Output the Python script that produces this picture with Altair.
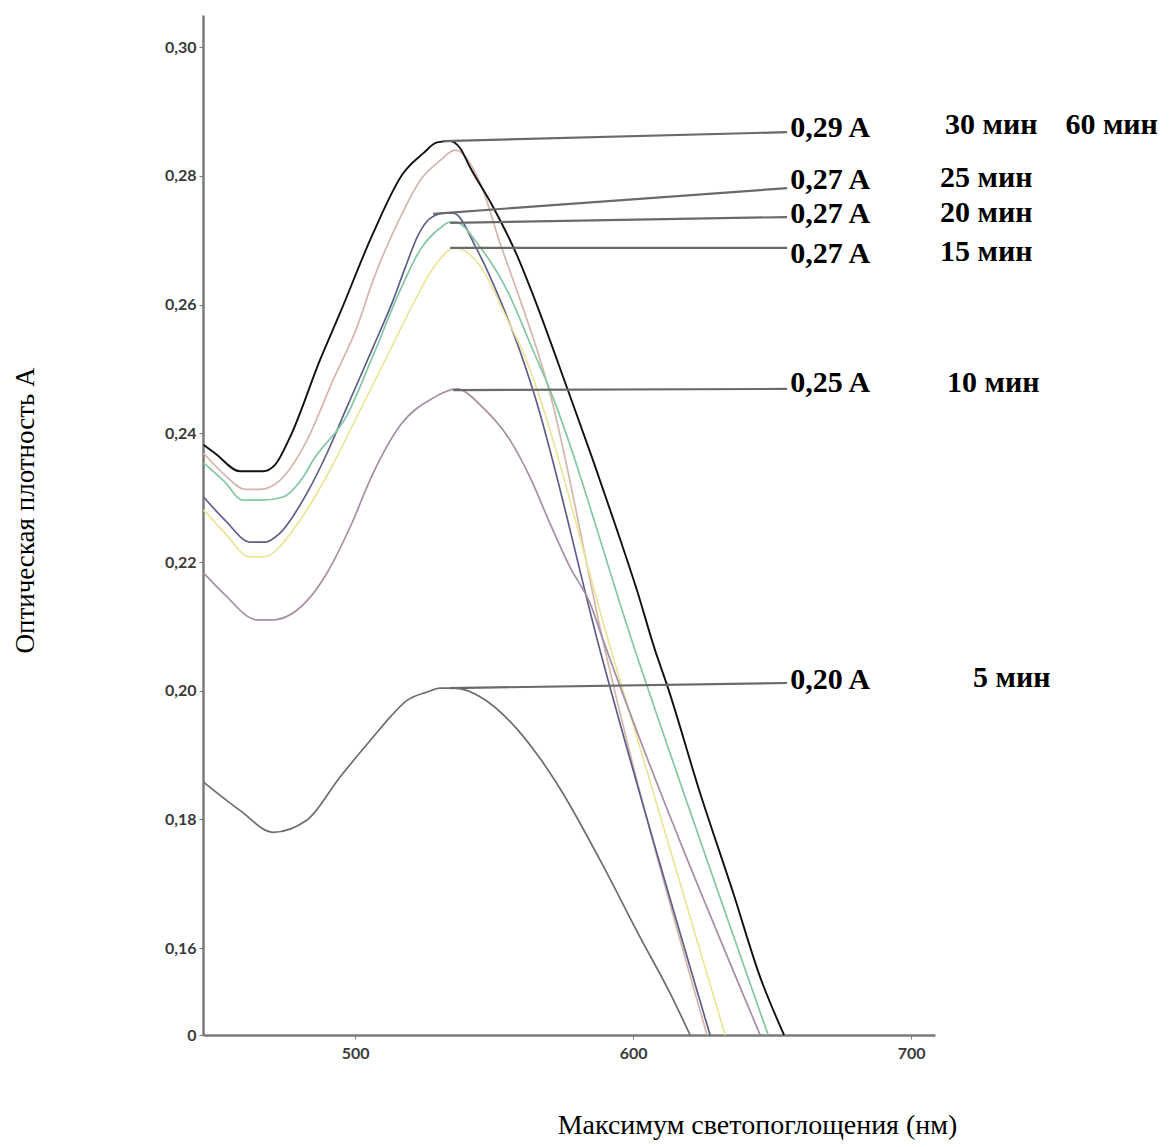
import altair as alt
import pandas as pd

# ---------------- data ----------------
series_names = ["30 мин", "60 мин", "25 мин", "20 мин", "15 мин", "10 мин", "5 мин"]
series_colors = ["#111111", "#d4b6ab", "#5e5e8a", "#84c7a2", "#ece598", "#a68fa6", "#6c6c72"]

wl_30 = [445.5, 449.6, 458.6, 466.9, 471.2, 476.6, 487.4, 494.6, 506.5, 517.3, 524.5, 529.5,
         534.2, 537.8, 541.4, 549.6, 558.3, 564.0, 576.3, 585.6, 594.2, 601.4, 607.9, 612.2,
         624.1, 636.0, 645.7, 654.3]
a_30 = [0.2382, 0.2369, 0.2341, 0.2341, 0.2351, 0.2394, 0.2514, 0.2587, 0.2711, 0.2804, 0.2835, 0.2852,
        0.2854, 0.2843, 0.2813, 0.2752, 0.2676, 0.2615, 0.2470, 0.2358, 0.2250, 0.2156, 0.2063, 0.2009,
        0.1841, 0.1686, 0.1555, 0.1465]

wl_60 = [445.5, 453.2, 460.4, 465.8, 473.0, 482.7, 492.1, 500.7, 506.5, 516.2, 523.4, 530.6,
         536.0, 545.0, 552.2, 559.4, 565.5, 569.1, 589.9, 626.6]
a_60 = [0.2369, 0.2335, 0.2313, 0.2313, 0.2327, 0.2389, 0.2483, 0.2565, 0.2638, 0.2735, 0.2793, 0.2824,
        0.2840, 0.2789, 0.2695, 0.2607, 0.2529, 0.2478, 0.2063, 0.1465]

wl_25 = [445.5, 453.2, 462.2, 467.6, 473.0, 482.7, 489.9, 497.1, 506.5, 513.7, 518.0, 522.7,
         527.0, 532.4, 535.3, 543.9, 552.2, 558.3, 564.0, 588.1, 627.7]
a_25 = [0.2301, 0.2265, 0.2231, 0.2231, 0.2245, 0.2307, 0.2369, 0.2441, 0.2534, 0.2607, 0.2657, 0.2708,
        0.2734, 0.2742, 0.2742, 0.2685, 0.2607, 0.2540, 0.2467, 0.2063, 0.1465]

wl_20 = [445.5, 453.2, 459.4, 466.5, 474.1, 481.3, 484.9, 497.1, 506.5, 516.2, 523.4, 530.6,
         534.2, 536.0, 545.0, 554.7, 564.0, 569.1, 600.7, 648.6]
a_20 = [0.2354, 0.2324, 0.2296, 0.2296, 0.2301, 0.2332, 0.2358, 0.2428, 0.2521, 0.2622, 0.2685, 0.2719,
        0.2728, 0.2728, 0.2689, 0.2622, 0.2529, 0.2478, 0.2063, 0.1465]

wl_15 = [445.5, 453.2, 462.2, 466.9, 480.2, 491.0, 501.8, 512.6, 521.6, 528.8, 536.0, 545.0,
         554.0, 560.1, 592.1, 633.1]
a_15 = [0.2281, 0.2245, 0.2208, 0.2208, 0.2265, 0.2343, 0.2436, 0.2529, 0.2607, 0.2661, 0.2688, 0.2660,
        0.2584, 0.2529, 0.2063, 0.1465]

wl_10 = [445.5, 453.2, 464.7, 470.1, 483.8, 489.9, 498.2, 506.5, 516.2, 528.1, 536.5,
         546.0, 555.8, 562.9, 570.1, 577.3, 584.5, 589.2, 645.7]
a_10 = [0.2183, 0.2149, 0.2110, 0.2110, 0.2145, 0.2183, 0.2254, 0.2338, 0.2412, 0.2455, 0.2469,
        0.2440, 0.2389, 0.2332, 0.2260, 0.2192, 0.2136, 0.2079, 0.1465]

wl_5 = [445.5, 458.6, 470.5, 482.7, 494.6, 506.5, 512.6, 518.7, 525.9, 530.6, 536.0, 546.0,
        555.8, 566.5, 573.7, 588.1, 602.5, 613.3, 620.5]
a_5 = [0.1858, 0.1814, 0.1780, 0.1799, 0.1866, 0.1928, 0.1959, 0.1985, 0.1998, 0.2004, 0.2004, 0.1988,
       0.1952, 0.1895, 0.1848, 0.1737, 0.1617, 0.1530, 0.1465]

# leader lines: peak -> label
lead_x1 = [531.7, 528.1, 534.2, 534.2, 535.3, 534.2]
lead_y1 = [0.2854, 0.2741, 0.2727, 0.2688, 0.2467, 0.2004]
lead_x2 = [655.4, 655.4, 655.4, 655.4, 655.4, 655.4]
lead_y2 = [0.2868, 0.2781, 0.2736, 0.2688, 0.2469, 0.2012]

# labels
value_labels = ["0,29 A", "0,27 A", "0,27 A", "0,27 A", "0,25 A", "0,20 A"]
value_label_x = [656.5, 656.5, 656.5, 656.5, 656.5, 656.5]
value_label_y = [0.2874, 0.2793, 0.2741, 0.2678, 0.2478, 0.2016]
time_labels = ["30 мин", "60 мин", "25 мин", "20 мин", "15 мин", "10 мин", "5 мин"]
time_label_x = [712.2, 755.5, 710.4, 710.4, 710.4, 712.9, 722.3]
time_label_y = [0.2879, 0.2879, 0.2796, 0.2742, 0.2681, 0.2478, 0.2020]

y_ticks = [0.1465, 0.16, 0.18, 0.20, 0.22, 0.24, 0.26, 0.28, 0.30]
x_ticks = [500, 600, 700]

# ---------------- tables ----------------
curves = [(wl_30, a_30), (wl_60, a_60), (wl_25, a_25), (wl_20, a_20),
          (wl_15, a_15), (wl_10, a_10), (wl_5, a_5)]
rows = []
for name, (xs, ys) in zip(series_names, curves):
    for xv, yv in zip(xs, ys):
        rows.append({"series": name, "wl": xv, "a": yv})
df = pd.DataFrame(rows)

leaders = pd.DataFrame({"wl": lead_x1, "a": lead_y1, "wl2": lead_x2, "a2": lead_y2})
vlabels = pd.DataFrame({"wl": value_label_x, "a": value_label_y, "t": value_labels})
tlabels = pd.DataFrame({"wl": time_label_x, "a": time_label_y, "t": time_labels})

# ---------------- scales / axes ----------------
xscale = alt.Scale(domain=[445.3, 708.6], nice=False, zero=False)
yscale = alt.Scale(domain=[0.1465, 0.305], nice=False, zero=False)

x_axis = alt.Axis(
    values=x_ticks, grid=False, domainColor="#7a7a7a", domainWidth=2.5,
    tickColor="#7a7a7a", tickSize=4, labelFont="Lato", labelFontSize=16,
    labelFontWeight="bold", labelColor="#3a3a3a", labelPadding=6,
    title="Максимум светопоглощения (нм)", titleFont="Liberation Serif",
    titleFontSize=28, titleFontWeight="normal", titleColor="#000000",
    titleX=554, titleY=90, titleAlign="center", titleBaseline="middle",
)
y_axis = alt.Axis(
    values=y_ticks, grid=False, domainColor="#7a7a7a", domainWidth=2.5,
    tickColor="#7a7a7a", tickSize=4, labelFont="Lato", labelFontSize=16,
    labelFontWeight="bold", labelColor="#3a3a3a", labelPadding=3,
    labelExpr="datum.value < 0.15 ? '0' : replace(format(datum.value, '.2f'), '.', ',')",
    title="Оптическая плотность А", titleFont="Liberation Serif",
    titleFontSize=27, titleFontWeight="normal", titleColor="#000000",
    titleX=-178, titleY=495, titleAngle=270, titleAlign="center", titleBaseline="middle",
)

X = alt.X("wl:Q", scale=xscale, axis=x_axis)
Y = alt.Y("a:Q", scale=yscale, axis=y_axis)

color = alt.Color("series:N", scale=alt.Scale(domain=series_names, range=series_colors), legend=None)

others = alt.Chart(df).transform_filter(alt.datum.series != "30 мин").mark_line(
    interpolate="monotone", strokeWidth=1.7
).encode(x=X, y=Y, color=color, detail="series:N")

black = alt.Chart(df).transform_filter(alt.datum.series == "30 мин").mark_line(
    interpolate="monotone", strokeWidth=1.9
).encode(x=X, y=Y, color=color)

rules = alt.Chart(leaders).mark_rule(color="#6a6a6a", strokeWidth=2.2).encode(
    x=X, y=Y, x2="wl2:Q", y2="a2:Q"
)

vtext = alt.Chart(vlabels).mark_text(
    align="left", baseline="middle", font="Liberation Serif", fontWeight="bold",
    fontSize=30, color="#000000"
).encode(x=X, y=Y, text="t:N")

ttext = alt.Chart(tlabels).mark_text(
    align="left", baseline="middle", font="Liberation Serif", fontWeight="bold",
    fontSize=30, color="#000000"
).encode(x=X, y=Y, text="t:N")

chart = alt.layer(others, black, rules, vtext, ttext).properties(
    width=732, height=1020,
    background="#ffffff",
    autosize=alt.AutoSizeParams(type="none"),
    padding={"left": 203, "top": 15, "right": 241, "bottom": 112},
).configure_view(strokeWidth=0)

chart.save("out.html", embed_options={"renderer": "svg", "actions": False})
